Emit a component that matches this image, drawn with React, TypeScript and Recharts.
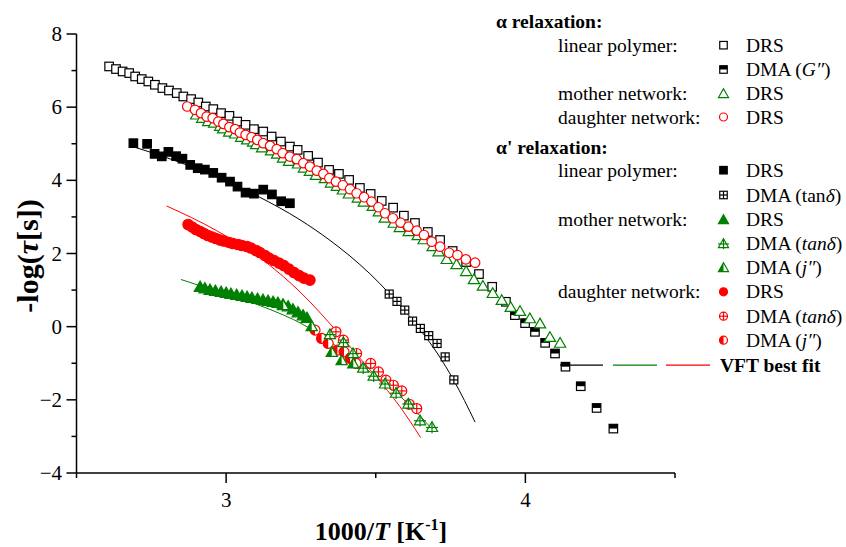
import React from 'react';
import { ComposedChart, Scatter, Line, XAxis, YAxis } from 'recharts';

const FONT = '"Liberation Serif", "Times New Roman", serif';
const GREEN = '#008000';
const RED = '#ff0000';

// ---------- data (1000/T [1/K], -log(tau[s])) ----------
const xTicks = [2.5, 3, 3.5, 4, 4.5];
const yTicks = [-4, -3, -2, -1, 0, 1, 2, 3, 4, 5, 6, 7, 8];

// alpha relaxation
const alphaLinearDRS: [number, number][] = [
  [2.609, 7.113], [2.632, 7.042], [2.654, 6.976], [2.676, 6.932], [2.696, 6.839], [2.718, 6.768],
  [2.740, 6.702], [2.762, 6.612], [2.787, 6.522], [2.809, 6.456], [2.835, 6.385], [2.857, 6.292],
  [2.883, 6.221], [2.907, 6.128], [2.932, 6.018], [2.957, 5.947], [2.983, 5.837], [3.011, 5.763],
  [3.037, 5.607], [3.065, 5.517], [3.093, 5.399], [3.124, 5.334], [3.152, 5.197], [3.183, 5.060],
  [3.213, 4.923], [3.239, 4.833], [3.274, 4.668], [3.307, 4.485], [3.344, 4.285], [3.377, 4.176],
  [3.411, 4.011], [3.447, 3.792], [3.483, 3.628], [3.520, 3.437], [3.558, 3.253], [3.594, 3.034],
  [3.631, 2.834], [3.674, 2.588], [3.715, 2.369], [3.757, 2.068], [3.802, 1.767], [3.845, 1.438],
  [3.889, 1.090], [3.935, 0.680],
];
const alphaLinearDMA: [number, number][] = [
  [3.965, 0.316], [3.999, 0.097], [4.032, -0.141], [4.066, -0.442], [4.099, -0.733],
  [4.134, -1.094], [4.185, -1.628], [4.238, -2.222], [4.294, -2.786],
];
const alphaMotherDRS: [number, number][] = [
  [2.90, 5.80], [2.92, 5.71], [2.94, 5.62], [2.96, 5.58], [2.98, 5.49], [2.99, 5.42], [3.01, 5.33],
  [3.03, 5.28], [3.05, 5.19], [3.07, 5.12], [3.09, 5.06], [3.10, 4.99], [3.12, 4.90], [3.15, 4.82],
  [3.17, 4.73], [3.19, 4.62], [3.21, 4.53], [3.24, 4.46], [3.26, 4.35], [3.28, 4.26], [3.30, 4.15],
  [3.33, 4.06], [3.35, 3.94], [3.37, 3.85], [3.39, 3.75], [3.41, 3.64], [3.44, 3.53], [3.46, 3.42],
  [3.49, 3.30], [3.51, 3.15], [3.53, 2.98], [3.56, 2.84], [3.58, 2.72], [3.61, 2.61], [3.64, 2.50],
  [3.66, 2.39], [3.69, 2.20], [3.71, 2.06], [3.737, 1.85], [3.770, 1.71], [3.802, 1.52],
  [3.828, 1.30], [3.858, 1.12], [3.891, 0.92], [3.921, 0.73], [3.951, 0.54], [3.982, 0.43],
  [4.015, 0.23], [4.049, 0.09], [4.082, -0.28], [4.116, -0.44],
];
const alphaDaughterDRS: [number, number][] = [
  [2.870, 6.018], [2.896, 5.928], [2.916, 5.837], [2.935, 5.744], [2.955, 5.701], [2.974, 5.607],
  [2.991, 5.544], [3.011, 5.454], [3.030, 5.399], [3.046, 5.306], [3.065, 5.243], [3.085, 5.180],
  [3.104, 5.106], [3.124, 5.016], [3.147, 4.942], [3.169, 4.852], [3.189, 4.742], [3.213, 4.649],
  [3.236, 4.578], [3.258, 4.469], [3.280, 4.376], [3.303, 4.266], [3.325, 4.176], [3.345, 4.058],
  [3.367, 3.965], [3.390, 3.866], [3.414, 3.757], [3.436, 3.647], [3.461, 3.538], [3.486, 3.417],
  [3.509, 3.264], [3.531, 3.100], [3.557, 2.963], [3.583, 2.843], [3.609, 2.733], [3.637, 2.624],
  [3.661, 2.506], [3.687, 2.322], [3.715, 2.186], [3.745, 2.021], [3.773, 1.958], [3.801, 1.841],
  [3.832, 1.748],
];

// alpha' relaxation
const primeLinearDRS: [number, number][] = [
  [2.690, 5.016], [2.736, 4.997], [2.761, 4.723], [2.785, 4.655], [2.807, 4.778], [2.833, 4.660],
  [2.854, 4.592], [2.880, 4.422], [2.905, 4.332], [2.929, 4.293], [2.957, 4.203], [2.985, 4.072],
  [3.013, 3.965], [3.038, 3.828], [3.065, 3.664], [3.093, 3.636], [3.124, 3.746], [3.153, 3.615],
  [3.184, 3.428], [3.213, 3.374],
];
const primeLinearTanD: [number, number][] = [
  [3.545, 0.891], [3.571, 0.691], [3.597, 0.453], [3.623, 0.152], [3.649, -0.048],
  [3.677, -0.245], [3.705, -0.459], [3.732, -0.826], [3.761, -1.455],
];
const primeMotherDRS: [number, number][] = [
  [2.913, 1.096], [2.929, 1.055], [2.946, 1.014], [2.964, 0.987], [2.983, 0.959], [3.000, 0.932],
  [3.016, 0.904], [3.035, 0.877], [3.053, 0.850], [3.070, 0.822], [3.086, 0.795], [3.105, 0.767],
  [3.123, 0.740], [3.140, 0.713], [3.157, 0.685], [3.173, 0.658], [3.190, 0.617], [3.207, 0.562],
  [3.223, 0.480], [3.240, 0.398], [3.257, 0.316], [3.270, 0.247],
];
const primeMotherTanD: [number, number][] = [
  [3.347, -0.204], [3.392, -0.423], [3.424, -0.724], [3.458, -1.121], [3.493, -1.340],
  [3.531, -1.554], [3.568, -1.806], [3.609, -2.101], [3.648, -2.559], [3.688, -2.742],
];
const primeMotherJ: [number, number][] = [
  [3.191, 0.590], [3.286, 0.015], [3.353, -0.689], [3.386, -0.916], [3.425, -1.006],
];
const primeDaughterDRS: [number, number][] = [
  [2.873, 2.793], [2.886, 2.725], [2.899, 2.656], [2.913, 2.602], [2.926, 2.547], [2.939, 2.492],
  [2.953, 2.451], [2.966, 2.410], [2.980, 2.369], [2.993, 2.342], [3.010, 2.301], [3.023, 2.273],
  [3.040, 2.246], [3.053, 2.218], [3.070, 2.191], [3.083, 2.150], [3.100, 2.082], [3.113, 2.027],
  [3.130, 1.945], [3.143, 1.876], [3.160, 1.808], [3.177, 1.739], [3.193, 1.671], [3.210, 1.575],
  [3.227, 1.479], [3.244, 1.397], [3.260, 1.329], [3.280, 1.274],
];
const primeDaughterTanD: [number, number][] = [
  [3.367, -0.141], [3.392, -0.368], [3.436, -0.733], [3.483, -1.006], [3.509, -1.236],
  [3.534, -1.463], [3.559, -1.601], [3.587, -1.756], [3.612, -2.121], [3.637, -2.239],
];
const primeDaughterJ: [number, number][] = [
  [3.297, -0.095], [3.319, -0.322], [3.341, -0.459], [3.372, -0.642], [3.394, -0.689],
  [3.414, -0.870], [3.434, -1.006],
];

// VFT best fits
const fitLinear: [number, number][] = [
  [2.689, 4.92], [2.75, 4.76], [2.846, 4.49], [2.980, 4.05], [3.107, 3.56], [3.247, 2.92],
  [3.347, 2.36], [3.414, 1.93], [3.480, 1.45], [3.545, 0.91], [3.597, 0.44], [3.649, -0.09],
  [3.705, -0.72], [3.761, -1.47], [3.832, -2.61],
];
const fitMother: [number, number][] = [
  [2.849, 1.29], [2.95, 1.02], [3.05, 0.76], [3.15, 0.46], [3.25, 0.09], [3.33, -0.31],
  [3.41, -0.79], [3.52, -1.49], [3.61, -2.12], [3.687, -2.79],
];
const fitDaughter: [number, number][] = [
  [2.801, 3.30], [2.969, 2.62], [3.136, 1.74], [3.247, 0.95], [3.370, -0.13], [3.447, -0.86],
  [3.525, -1.60], [3.581, -2.19], [3.650, -3.03],
];

const pts = (a: [number, number][]) => a.map(([x, y]) => ({ x, y }));

// ---------- markers ----------
type Kind =
  | 'openSq' | 'halfSq' | 'plusSq' | 'fillSq'
  | 'openTri' | 'fillTri' | 'crossTri' | 'halfTri'
  | 'openCirc' | 'fillCirc' | 'crossCirc' | 'halfCirc';

function Marker({ kind, cx, cy, s }: { kind: Kind; cx: number; cy: number; s: number }) {
  if (cx == null || cy == null || isNaN(cx) || isNaN(cy)) return null;
  const h = s / 2;
  const sw = 1.2;
  const triPts = `${cx},${cy - 0.52 * s} ${cx + 0.56 * s},${cy + 0.45 * s} ${cx - 0.56 * s},${cy + 0.45 * s}`;
  switch (kind) {
    case 'openSq':
      return <rect x={cx - h} y={cy - h} width={s} height={s} fill="#fff" stroke="#000" strokeWidth={sw} />;
    case 'fillSq':
      return <rect x={cx - h} y={cy - h} width={s} height={s} fill="#000" stroke="#000" strokeWidth={sw} />;
    case 'halfSq':
      return (
        <g>
          <rect x={cx - h} y={cy - h} width={s} height={s} fill="#fff" stroke="#000" strokeWidth={sw} />
          <rect x={cx - h} y={cy - h} width={s} height={h} fill="#000" />
        </g>
      );
    case 'plusSq':
      return (
        <g stroke="#000" strokeWidth={sw}>
          <rect x={cx - h} y={cy - h} width={s} height={s} fill="#fff" />
          <line x1={cx - h} y1={cy} x2={cx + h} y2={cy} />
          <line x1={cx} y1={cy - h} x2={cx} y2={cy + h} />
        </g>
      );
    case 'openTri':
      return <polygon points={triPts} fill="#fff" stroke={GREEN} strokeWidth={sw} />;
    case 'fillTri':
      return <polygon points={triPts} fill={GREEN} stroke={GREEN} strokeWidth={sw} />;
    case 'crossTri':
      return (
        <g stroke={GREEN} strokeWidth={sw}>
          <polygon points={triPts} fill="#fff" />
          <line x1={cx} y1={cy - 0.52 * s} x2={cx} y2={cy + 0.62 * s} />
          <line x1={cx - 0.6 * s} y1={cy + 0.05 * s} x2={cx + 0.6 * s} y2={cy + 0.05 * s} />
        </g>
      );
    case 'halfTri':
      return (
        <g>
          <polygon points={triPts} fill="#fff" stroke={GREEN} strokeWidth={sw} />
          <polygon
            points={`${cx},${cy - 0.52 * s} ${cx},${cy + 0.45 * s} ${cx - 0.56 * s},${cy + 0.45 * s}`}
            fill={GREEN}
          />
        </g>
      );
    case 'openCirc':
      return <circle cx={cx} cy={cy} r={h} fill="#fff" stroke={RED} strokeWidth={sw} />;
    case 'fillCirc':
      return <circle cx={cx} cy={cy} r={h} fill={RED} stroke={RED} strokeWidth={sw} />;
    case 'crossCirc':
      return (
        <g stroke={RED} strokeWidth={sw}>
          <circle cx={cx} cy={cy} r={h} fill="#fff" />
          <line x1={cx - h} y1={cy} x2={cx + h} y2={cy} />
          <line x1={cx} y1={cy - h} x2={cx} y2={cy + h} />
        </g>
      );
    case 'halfCirc':
      return (
        <g>
          <circle cx={cx} cy={cy} r={h} fill="#fff" stroke={RED} strokeWidth={sw} />
          <path d={`M${cx},${cy - h} A${h},${h} 0 0 0 ${cx},${cy + h} Z`} fill={RED} />
        </g>
      );
    default:
      return null;
  }
}

const shape = (kind: Kind, s: number) => (p: any) => <Marker kind={kind} cx={p.cx} cy={p.cy} s={s} />;

const fmt = (v: number) => (v < 0 ? `\u2212${Math.abs(v)}` : `${v}`);

// ---------- axis ticks ----------
const XTick = (props: any) => {
  const { x, y, payload } = props;
  const v = payload.value as number;
  const major = Math.abs(v - Math.round(v)) < 1e-6;
  return (
    <g>
      <line x1={x} y1={y} x2={x} y2={y + (major ? 10 : 5)} stroke="#000" strokeWidth={1.5} />
      {major && (
        <text x={x} y={y + 34} textAnchor="middle" fontFamily={FONT} fontSize={21} fill="#000">
          {fmt(v)}
        </text>
      )}
    </g>
  );
};

const YTick = (props: any) => {
  const { x, y, payload } = props;
  const v = payload.value as number;
  const major = Math.abs(v % 2) < 1e-6;
  return (
    <g>
      <line x1={x - (major ? 10 : 5)} y1={y} x2={x} y2={y} stroke="#000" strokeWidth={1.5} />
      {major && (
        <text x={x - 14.5} y={y + 7} textAnchor="end" fontFamily={FONT} fontSize={21} fill="#000">
          {fmt(v)}
        </text>
      )}
    </g>
  );
};

// ---------- legend overlay ----------
const LX_GROUP = 558;
const LX_SYM = 723.5;
const LX_TEXT = 746;
const LFS = 19.5;

type Row = { y: number; group?: string; kind?: Kind; text?: React.ReactNode; bold?: boolean };
const legendRows: Row[] = [
  { y: 27.7, text: 'α relaxation:', bold: true },
  { y: 51.7, group: 'linear polymer:', kind: 'openSq', text: 'DRS' },
  { y: 76, kind: 'halfSq', text: <>DMA (<tspan fontStyle="italic">G″</tspan>)</> },
  { y: 100, group: 'mother network:', kind: 'openTri', text: 'DRS' },
  { y: 123.5, group: 'daughter network:', kind: 'openCirc', text: 'DRS' },
  { y: 154, text: "α' relaxation:", bold: true },
  { y: 176.7, group: 'linear polymer:', kind: 'fillSq', text: 'DRS' },
  { y: 201.5, kind: 'plusSq', text: <>DMA (tan<tspan fontStyle="italic">δ</tspan>)</> },
  { y: 226, group: 'mother network:', kind: 'fillTri', text: 'DRS' },
  { y: 250, kind: 'crossTri', text: <>DMA (<tspan fontStyle="italic">tanδ</tspan>)</> },
  { y: 274, kind: 'halfTri', text: <>DMA (<tspan fontStyle="italic">j″</tspan>)</> },
  { y: 298.3, group: 'daughter network:', kind: 'fillCirc', text: 'DRS' },
  { y: 322.7, kind: 'crossCirc', text: <>DMA (<tspan fontStyle="italic">tanδ</tspan>)</> },
  { y: 346.7, kind: 'halfCirc', text: <>DMA (<tspan fontStyle="italic">j″</tspan>)</> },
];

const legendSize = (k: Kind) => (k.endsWith('Sq') ? 7.5 : k.endsWith('Tri') ? 9 : 8);

const Overlay = () => (
  <svg
    width={846}
    height={547}
    style={{ position: 'absolute', left: 0, top: 0, pointerEvents: 'none' }}
    fontFamily={FONT}
  >
    {legendRows.map((r, i) => (
      <g key={i}>
        {r.bold ? (
          <text x={496} y={r.y} fontSize={LFS} fontWeight="bold" fill="#000">
            {r.text}
          </text>
        ) : (
          <>
            {r.group && (
              <text x={LX_GROUP} y={r.y} fontSize={LFS} fill="#000">
                {r.group}
              </text>
            )}
            {r.kind && <Marker kind={r.kind} cx={LX_SYM} cy={r.y - 6.5} s={legendSize(r.kind)} />}
            <text x={LX_TEXT} y={r.y} fontSize={LFS} fill="#000">
              {r.text}
            </text>
          </>
        )}
      </g>
    ))}
    <line x1={560} y1={365.2} x2={603} y2={365.2} stroke="#000" strokeWidth={1.2} />
    <line x1={613} y1={365.2} x2={657} y2={365.2} stroke={GREEN} strokeWidth={1.2} />
    <line x1={666} y1={365.2} x2={710} y2={365.2} stroke={RED} strokeWidth={1.2} />
    <text x={720} y={371.7} fontSize={LFS} fontWeight="bold" fill="#000">
      VFT best fit
    </text>

    <text
      transform="translate(38,256) rotate(-90)"
      textAnchor="middle"
      fontSize={30}
      fontWeight="bold"
      fill="#000"
    >
      -log(<tspan fontStyle="italic">τ</tspan>[s])
    </text>
    <text x={381} y={540} textAnchor="middle" fontSize={26} fontWeight="bold" fill="#000">
      1000/<tspan fontStyle="italic">T</tspan> [K<tspan dy={-10} fontSize={16}>-1</tspan>
      <tspan dy={10}>]</tspan>
    </text>
  </svg>
);

export default function App() {
  return (
    <div style={{ position: 'absolute', left: 0, top: 0, width: 846, height: 547, background: '#fff' }}>
      <ComposedChart width={846} height={547} margin={{ top: 34, right: 171, bottom: 44, left: 16.5 }}>
        <XAxis
          dataKey="x"
          type="number"
          domain={[2.5, 4.5]}
          ticks={xTicks}
          interval={0}
          allowDataOverflow
          height={30}
          tickSize={0}
          tickMargin={0}
          tickLine={false}
          axisLine={{ stroke: '#000', strokeWidth: 1.5 }}
          tick={<XTick />}
        />
        <YAxis
          dataKey="y"
          type="number"
          domain={[-4, 8]}
          ticks={yTicks}
          interval={0}
          allowDataOverflow
          width={60}
          tickSize={0}
          tickMargin={0}
          tickLine={false}
          axisLine={{ stroke: '#000', strokeWidth: 1.5 }}
          tick={<YTick />}
        />
        <Line data={pts(fitLinear)} dataKey="y" type="monotone" stroke="#000" strokeWidth={1} dot={false} isAnimationActive={false} />
        <Line data={pts(fitMother)} dataKey="y" type="monotone" stroke={GREEN} strokeWidth={1} dot={false} isAnimationActive={false} />
        <Line data={pts(fitDaughter)} dataKey="y" type="monotone" stroke={RED} strokeWidth={1} dot={false} isAnimationActive={false} />

        <Scatter data={pts(alphaLinearDRS)} dataKey="y" shape={shape('openSq', 8.5)} isAnimationActive={false} />
        <Scatter data={pts(alphaLinearDMA)} dataKey="y" shape={shape('halfSq', 8.5)} isAnimationActive={false} />
        <Scatter data={pts(primeLinearDRS)} dataKey="y" shape={shape('fillSq', 8.5)} isAnimationActive={false} />
        <Scatter data={pts(primeLinearTanD)} dataKey="y" shape={shape('plusSq', 8)} isAnimationActive={false} />
        <Scatter data={pts(alphaMotherDRS)} dataKey="y" shape={shape('openTri', 10)} isAnimationActive={false} />
        <Scatter data={pts(alphaDaughterDRS)} dataKey="y" shape={shape('openCirc', 9.5)} isAnimationActive={false} />
        <Scatter data={pts(primeMotherDRS)} dataKey="y" shape={shape('fillTri', 10.5)} isAnimationActive={false} />
        <Scatter data={pts(primeDaughterDRS)} dataKey="y" shape={shape('fillCirc', 10.5)} isAnimationActive={false} />
        <Scatter data={pts(primeDaughterJ)} dataKey="y" shape={shape('halfCirc', 10)} isAnimationActive={false} />
        <Scatter data={pts(primeMotherJ)} dataKey="y" shape={shape('halfTri', 10)} isAnimationActive={false} />
        <Scatter data={pts(primeDaughterTanD)} dataKey="y" shape={shape('crossCirc', 10)} isAnimationActive={false} />
        <Scatter data={pts(primeMotherTanD)} dataKey="y" shape={shape('crossTri', 10)} isAnimationActive={false} />
      </ComposedChart>
      <Overlay />
    </div>
  );
}
